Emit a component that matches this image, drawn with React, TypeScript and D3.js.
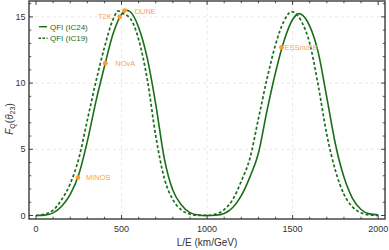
import React from "react";
import * as d3 from "d3";

const W = 389;
const H = 250;

// Solid curve: QFI (IC24)
const solidLE = [0, 50, 100, 150, 200, 250, 300, 350, 400, 450, 500, 525, 550, 600, 650, 700, 750, 800, 850, 900, 950, 1000, 1050, 1100, 1150, 1200, 1250, 1300, 1350, 1400, 1450, 1500, 1537, 1550, 1600, 1650, 1700, 1750, 1800, 1850, 1900, 1950, 2000];
const solidF = [0, 0.03, 0.2, 0.7, 1.6, 3.1, 5.6, 8.6, 11.25, 13.7, 15.2, 15.5, 15.4, 14.2, 11.9, 8.4, 4.3, 1.9, 0.8, 0.22, 0.04, 0, 0.02, 0.15, 0.6, 1.5, 2.9, 4.7, 7.9, 10.8, 13.2, 14.8, 15.25, 15.2, 14.3, 12.3, 8.9, 5.4, 2.9, 1.3, 0.45, 0.12, 0.05];

// Dashed curve: QFI (IC19)
const dashedLE = [0, 50, 100, 150, 200, 250, 300, 350, 400, 450, 480, 500, 550, 600, 650, 700, 750, 800, 850, 900, 950, 1000, 1050, 1100, 1150, 1200, 1250, 1300, 1350, 1400, 1450, 1494, 1500, 1550, 1600, 1650, 1700, 1750, 1800, 1850, 1900, 1950, 2000];
const dashedF = [0, 0.1, 0.4, 1.2, 2.4, 4.3, 7.2, 10.1, 12.7, 14.8, 15.45, 15.3, 14.9, 13.3, 10.3, 6.0, 2.8, 1.2, 0.42, 0.1, 0.01, 0.01, 0.1, 0.45, 1.2, 2.6, 4.3, 7.3, 10.3, 12.9, 14.7, 15.4, 15.38, 14.7, 13.0, 9.8, 6.1, 3.4, 1.6, 0.65, 0.2, 0.04, 0.01];

// Experiments
const expNames = ["MINOS", "NOvA", "T2K", "DUNE", "ESSnuSB"];
const expLE = [245, 405, 489, 518, 1435];
const expF = [2.86, 11.5, 15.0, 15.48, 12.7];

const xMajor = [0, 500, 1000, 1500, 2000];
const yMajor = [0, 5, 10, 15];
const xGrid = [500, 1000, 1500];
const yGrid = [5, 10, 15];

const legendLabels = ["QFI (IC24)", "QFI (IC19)"];

const GREEN = "#1a6e1a";
const ORANGE = "#ff9a2e";
const ORANGE_TXT = "#f7a54f";
const FONT = "'Liberation Sans', Arial, sans-serif";

export default function App() {
  const left = 29, right = 385, top = 1, bottom = 219;
  const x = d3.scaleLinear().domain([-41, 2040]).range([left, right]);
  const y = d3.scaleLinear().domain([-0.265, 16.2]).range([bottom, top]);

  const line = d3
    .line<[number, number]>()
    .x((d) => x(d[0]))
    .y((d) => y(d[1]))
    .curve(d3.curveMonotoneX);

  const solidPath = line(solidLE.map((v, i) => [v, solidF[i]]) as [number, number][]) || "";
  const dashedPath = line(dashedLE.map((v, i) => [v, dashedF[i]]) as [number, number][]) || "";

  const xMinor = d3.range(0, 2001, 100).filter((v) => v % 500 !== 0);
  const yMinor = d3.range(0, 17, 1).filter((v) => v % 5 !== 0);

  const labelOffsets: { [k: string]: [number, number, string] } = {
    MINOS: [8, 2.8, "start"],
    NOvA: [10, 2.8, "start"],
    T2K: [-8, 2.5, "end"],
    DUNE: [10, 3.3, "start"],
    ESSnuSB: [3, 2.8, "start"],
  };

  const frameColor = "#2b2b2b";

  return (
    <svg
      width={W}
      height={H}
      style={{ position: "absolute", left: 0, top: 0, background: "#fff" }}
      fontFamily={FONT}
    >
      {/* grid */}
      {xGrid.map((v) => (
        <line key={"gx" + v} x1={x(v)} x2={x(v)} y1={top} y2={bottom} stroke="#e2e2e2" strokeWidth={0.8} strokeDasharray="3,3" />
      ))}
      {yGrid.map((v) => (
        <line key={"gy" + v} x1={left} x2={right} y1={y(v)} y2={y(v)} stroke="#e2e2e2" strokeWidth={0.8} strokeDasharray="3,3" />
      ))}

      {/* curves */}
      <path d={dashedPath} fill="none" stroke={GREEN} strokeWidth={1.7} strokeDasharray="3,2.2" />
      <path d={solidPath} fill="none" stroke={GREEN} strokeWidth={1.6} />

      {/* experiments */}
      {expNames.map((n, i) => {
        const [dx, dy, anchor] = labelOffsets[n];
        return (
          <g key={n}>
            <circle cx={x(expLE[i])} cy={y(expF[i])} r={2.4} fill={ORANGE} />
            <text
              x={x(expLE[i]) + dx}
              y={y(expF[i]) + dy}
              fontSize={7.5}
              fill={ORANGE_TXT}
              textAnchor={anchor}
            >
              {n}
            </text>
          </g>
        );
      })}

      {/* frame */}
      <rect x={left} y={top} width={right - left} height={bottom - top} fill="none" stroke={frameColor} strokeWidth={1.3} />

      {/* x ticks */}
      {xMajor.map((v) => (
        <g key={"xt" + v}>
          <line x1={x(v)} x2={x(v)} y1={bottom} y2={bottom - 4} stroke={frameColor} strokeWidth={0.9} />
          <line x1={x(v)} x2={x(v)} y1={top} y2={top + 4} stroke={frameColor} strokeWidth={0.9} />
          <text x={x(v)} y={231.5} fontSize={9} textAnchor="middle" fill="#333">
            {v}
          </text>
        </g>
      ))}
      {xMinor.map((v) => (
        <g key={"xm" + v}>
          <line x1={x(v)} x2={x(v)} y1={bottom} y2={bottom - 2.3} stroke={frameColor} strokeWidth={0.8} />
          <line x1={x(v)} x2={x(v)} y1={top} y2={top + 2.3} stroke={frameColor} strokeWidth={0.8} />
        </g>
      ))}

      {/* y ticks */}
      {yMajor.map((v) => (
        <g key={"yt" + v}>
          <line x1={left} x2={left + 4} y1={y(v)} y2={y(v)} stroke={frameColor} strokeWidth={0.9} />
          <line x1={right} x2={right - 4} y1={y(v)} y2={y(v)} stroke={frameColor} strokeWidth={0.9} />
          <text x={25.5} y={y(v) + 3.2} fontSize={9} textAnchor="end" fill="#333">
            {v}
          </text>
        </g>
      ))}
      {yMinor.map((v) => (
        <g key={"ym" + v}>
          <line x1={left} x2={left + 2.3} y1={y(v)} y2={y(v)} stroke={frameColor} strokeWidth={0.8} />
          <line x1={right} x2={right - 2.3} y1={y(v)} y2={y(v)} stroke={frameColor} strokeWidth={0.8} />
        </g>
      ))}

      {/* axis titles */}
      <text x={207} y={246} fontSize={10} textAnchor="middle" fill="#333">
        L/E (km/GeV)
      </text>
      <text transform={`translate(12.5, ${119}) rotate(-90)`} fontSize={10} textAnchor="middle" fill="#333">
        <tspan fontStyle="italic">F</tspan>
        <tspan fontSize={7} dy={2}>Q</tspan>
        <tspan dy={-2}>(</tspan>
        <tspan fontStyle="italic">θ</tspan>
        <tspan fontSize={7} dy={2}>23</tspan>
        <tspan dy={-2}>)</tspan>
      </text>

      {/* legend */}
      <line x1={39} x2={47} y1={26.7} y2={26.7} stroke={GREEN} strokeWidth={1.4} />
      <line x1={38.5} x2={47.5} y1={38.3} y2={38.3} stroke={GREEN} strokeWidth={1.4} strokeDasharray="2.5,1.5" />
      <text x={50} y={29.5} fontSize={8} fill={GREEN}>
        {legendLabels[0]}
      </text>
      <text x={50} y={41.1} fontSize={8} fill={GREEN}>
        {legendLabels[1]}
      </text>
    </svg>
  );
}
